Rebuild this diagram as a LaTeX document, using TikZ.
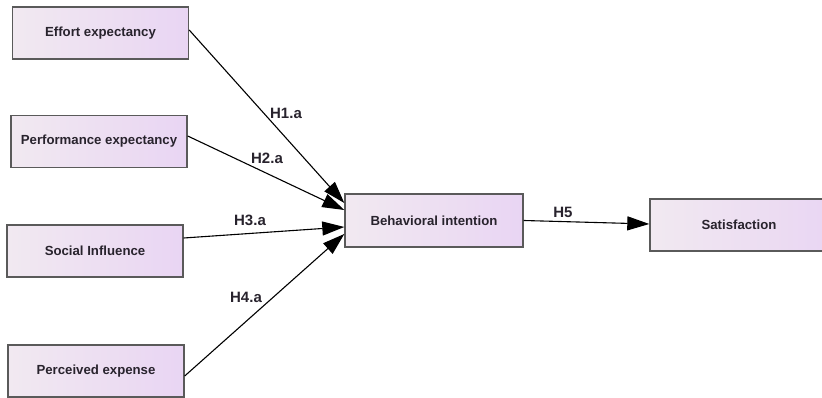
\documentclass[tikz,border=0pt]{standalone}
\usepackage{fontspec}
\setmainfont{Liberation Sans}
\usetikzlibrary{arrows.meta,calc}
\definecolor{boxleft}{RGB}{241,233,241}
\definecolor{boxright}{RGB}{233,213,243}
\definecolor{boxline}{RGB}{90,90,90}
\definecolor{txt}{RGB}{40,35,45}
\tikzset{
  box/.style={draw=boxline, line width=1.4pt, left color=boxleft, right color=boxright,
    minimum width=176pt, minimum height=52pt, inner sep=0pt,
    font=\fontsize{13.2}{15}\selectfont\bfseries, text=txt},
  conn/.style={line width=1.1pt, draw=black, -{Triangle[length=22pt,width=14pt]}},
  hlab/.style={font=\fontsize{15}{18}\selectfont\bfseries, text=txt}
}
\begin{document}
\begin{tikzpicture}[x=1pt,y=1pt]
\useasboundingbox (0,0) rectangle (822,398);
\clip (0,0) rectangle (822,398);
\node[box] (eff) at (100.5,365) {Effort expectancy};
\node[box] (perf) at (99,256.5) {Performance expectancy};
\node[box] (soc) at (95,147) {Social Influence};
\node[box] (pe) at (96,27) {Perceived expense};
\node[box, minimum width=178pt, minimum height=53pt] (bi) at (434,177.5) {Behavioral intention};
\node[box, minimum width=190pt] (sat) at (745,173) {\hspace*{-12pt}Satisfaction};

\draw[conn] ($(eff.east)+(0,3)$) -- ($(bi.west)+(0,17.5)$);
\draw[conn] ($(perf.east)+(0,5.5)$) -- ($(bi.west)+(0,10.5)$);
\draw[conn] ($(soc.east)+(0,13)$) -- ($(bi.west)+(0,-6.5)$);
\draw[conn] ($(pe.east)+(0,-5)$) -- ($(bi.west)+(0,-13.5)$);
\draw[conn] (bi.east) -- ($(sat.west)+(0,1)$);

\node[hlab] (h1) at (286,285) {H1.a};
\node[hlab] (h2) at (267,240) {H2.a};
\node[hlab] (h3) at (250,178) {H3.a};
\node[hlab] (h4) at (246,101) {H4.a};
\node[hlab] (h5) at (563,186) {H5};
\end{tikzpicture}
\end{document}
